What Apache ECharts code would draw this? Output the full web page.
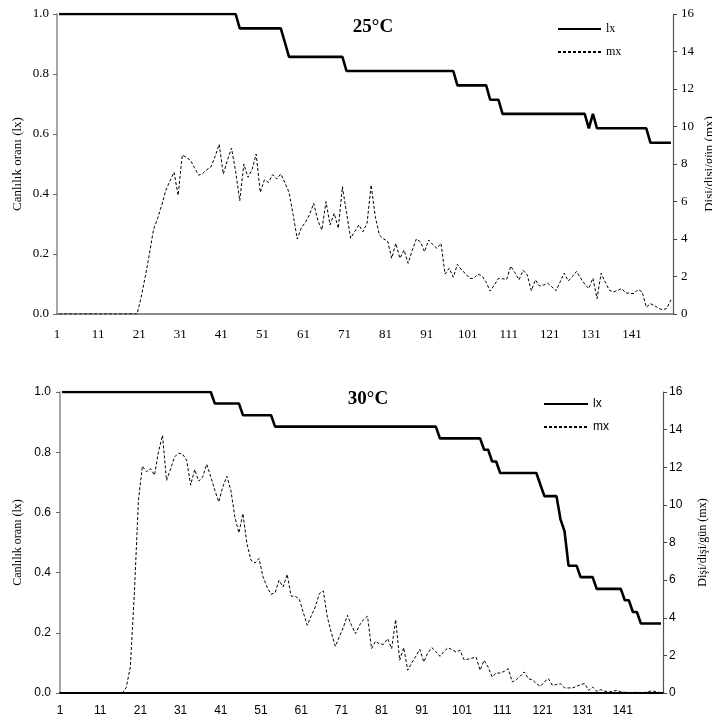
<!DOCTYPE html>
<html><head><meta charset="utf-8">
<script src="https://cdn.jsdelivr.net/npm/echarts@6/dist/echarts.min.js"></script>
<style>html,body{margin:0;padding:0;background:#fff}#c{width:712px;height:722px}</style>
</head><body><div id="c"></div>
<script>
// Days 1..150 (category labels)
const days = [];
for (let d = 1; d <= 150; d++) days.push(String(d));

// 25°C survival (lx), days 1..150
const lx25 = [
  1,1,1,1,1,1,1,1,1,1, 1,1,1,1,1,1,1,1,1,1,
  1,1,1,1,1,1,1,1,1,1, 1,1,1,1,1,1,1,1,1,1,
  1,1,1,1,0.952,0.952,0.952,0.952,0.952,0.952,
  0.952,0.952,0.952,0.952,0.952,0.905,0.857,0.857,0.857,0.857,
  0.857,0.857,0.857,0.857,0.857,0.857,0.857,0.857,0.857,0.857,
  0.810,0.810,0.810,0.810,0.810,0.810,0.810,0.810,0.810,0.810,
  0.810,0.810,0.810,0.810,0.810,0.810,0.810,0.810,0.810,0.810,
  0.810,0.810,0.810,0.810,0.810,0.810,0.810,0.762,0.762,0.762,
  0.762,0.762,0.762,0.762,0.762,0.714,0.714,0.714,0.667,0.667,
  0.667,0.667,0.667,0.667,0.667,0.667,0.667,0.667,0.667,0.667,
  0.667,0.667,0.667,0.667,0.667,0.667,0.667,0.667,0.667,0.619,
  0.667,0.619,0.619,0.619,0.619,0.619,0.619,0.619,0.619,0.619,
  0.619,0.619,0.619,0.619,0.571,0.571,0.571,0.571,0.571,0.571
];
// 25°C fecundity (mx), days 1..150
const mx25 = [
  0,0,0,0,0,0,0,0,0,0, 0,0,0,0,0,0,0,0,0,0,
  0.9,2.0,3.2,4.5,5.1,5.8,6.6,7.1,7.56,6.33,
  8.48,8.35,8.2,7.8,7.4,7.5,7.7,7.85,8.4,9.05,
  7.47,8.2,8.85,7.6,6.04,8.0,7.29,7.7,8.53,6.49,
  7.15,7.02,7.43,7.2,7.47,7.0,6.49,5.3,4.0,4.6,
  4.9,5.3,5.9,5.0,4.48,5.99,4.75,5.37,4.57,6.79,
  5.4,4.04,4.4,4.75,4.39,4.84,6.88,5.2,4.21,4.0,
  3.9,2.97,3.77,2.97,3.41,2.7,3.4,4.0,3.85,3.32,
  3.95,3.7,3.5,3.77,2.13,2.44,1.96,2.65,2.35,2.15,
  1.9,1.9,2.13,2.03,1.7,1.22,1.55,1.9,1.88,1.85,
  2.55,2.2,1.82,2.33,2.09,1.24,1.82,1.49,1.55,1.64,
  1.45,1.24,1.7,2.18,1.76,2.0,2.27,1.91,1.6,1.36,
  1.91,0.82,2.18,1.7,1.27,1.18,1.25,1.36,1.13,1.1,
  1.09,1.31,1.18,0.36,0.55,0.45,0.3,0.22,0.3,0.76
];
// 30°C survival (lx), days 1..150
const lx30 = [
  1,1,1,1,1,1,1,1,1,1, 1,1,1,1,1,1,1,1,1,1,
  1,1,1,1,1,1,1,1,1,1, 1,1,1,1,1,1,1,1,0.962,0.962,
  0.962,0.962,0.962,0.962,0.962,0.923,0.923,0.923,0.923,0.923,
  0.923,0.923,0.923,0.885,0.885,0.885,0.885,0.885,0.885,0.885,
  0.885,0.885,0.885,0.885,0.885,0.885,0.885,0.885,0.885,0.885,
  0.885,0.885,0.885,0.885,0.885,0.885,0.885,0.885,0.885,0.885,
  0.885,0.885,0.885,0.885,0.885,0.885,0.885,0.885,0.885,0.885,
  0.885,0.885,0.885,0.885,0.846,0.846,0.846,0.846,0.846,0.846,
  0.846,0.846,0.846,0.846,0.846,0.808,0.808,0.769,0.769,0.731,
  0.731,0.731,0.731,0.731,0.731,0.731,0.731,0.731,0.731,0.692,
  0.654,0.654,0.654,0.654,0.577,0.538,0.423,0.423,0.423,0.385,
  0.385,0.385,0.385,0.346,0.346,0.346,0.346,0.346,0.346,0.346,
  0.308,0.308,0.269,0.269,0.231,0.231,0.231,0.231,0.231,0.231
];
// 30°C fecundity (mx), days 1..150
const mx30 = [
  0,0,0,0,0,0,0,0,0,0, 0,0,0,0,0,0,0.3,1.4,5.3,10.2,
  12.06,11.76,11.93,11.58,12.82,13.7,11.3,11.9,12.55,12.75,
  12.7,12.38,11.05,11.88,11.26,11.49,12.16,11.5,10.78,10.16,
  10.96,11.52,10.78,9.36,8.51,9.54,7.94,7.06,6.91,7.15,
  6.17,5.64,5.25,5.32,5.99,5.64,6.31,5.15,5.14,5.0,
  4.3,3.6,4.1,4.57,5.28,5.43,4.04,3.2,2.48,3.0,
  3.5,4.13,3.6,3.16,3.6,3.9,4.08,2.36,2.75,2.6,
  2.59,2.89,2.36,3.9,1.74,2.41,1.21,1.6,1.95,2.32,
  1.65,2.13,2.41,2.2,1.95,2.2,2.41,2.3,2.18,2.27,
  1.77,1.8,1.85,1.91,1.21,1.74,1.38,0.85,1.06,1.06,
  1.15,1.29,0.59,0.7,0.9,1.12,0.76,0.7,0.5,0.35,
  0.6,0.76,0.41,0.45,0.5,0.27,0.27,0.27,0.35,0.45,
  0.5,0.14,0.32,0.09,0.18,0.1,0.05,0.09,0.14,0.06,
  0.04,0.03,0.03,0.04,0.02,0.03,0.09,0.11,0.05,0.02
];

const SERIF = '"Liberation Serif", "DejaVu Serif", serif';
const SANS = '"Liberation Sans", Arial, sans-serif';

function xAxisCfg(gi, font, fs, margin, lineColor, lineWidth) {
  return {
    gridIndex: gi, type: 'category', data: days, boundaryGap: true,
    axisLine: { lineStyle: { color: lineColor, width: lineWidth } },
    axisTick: { interval: 9, length: 4, lineStyle: { color: '#444' } },
    axisLabel: { interval: 9, color: '#000', fontFamily: font, fontSize: fs, margin: margin, padding: [0, 4, 0, 0] },
    splitLine: { show: false }
  };
}
function yLeft(gi, font, fs, name, nameFs, nameGap, margin) {
  return {
    gridIndex: gi, type: 'value', position: 'left', min: 0, max: 1, interval: 0.2,
    axisLine: { show: true, lineStyle: { color: '#8a8a8a', width: 1.5 } },
    axisTick: { show: true, length: 4, lineStyle: { color: '#666' } },
    axisLabel: { color: '#000', fontFamily: font, fontSize: fs, margin: margin, formatter: v => v.toFixed(1) },
    splitLine: { show: false },
    name: name, nameLocation: 'middle', nameGap: nameGap, nameMoveOverlap: false,
    nameTextStyle: { color: '#000', fontFamily: SERIF, fontSize: nameFs }
  };
}
function yRight(gi, font, fs, name, nameFs, nameGap, margin) {
  return {
    gridIndex: gi, type: 'value', position: 'right', min: 0, max: 16, interval: 2,
    axisLine: { show: true, lineStyle: { color: '#555', width: 1.2 } },
    axisTick: { show: true, length: 4, lineStyle: { color: '#444' } },
    axisLabel: { color: '#000', fontFamily: font, fontSize: fs, margin: margin },
    splitLine: { show: false },
    name: name, nameLocation: 'middle', nameGap: nameGap, nameMoveOverlap: false,
    nameTextStyle: { color: '#000', fontFamily: SERIF, fontSize: nameFs }
  };
}
function lxSeries(xi, yi, data) {
  return { name: 'lx', type: 'line', xAxisIndex: xi, yAxisIndex: yi, data: data,
    symbol: 'none', lineStyle: { color: '#000', width: 2.6 }, itemStyle: { color: '#000' } };
}
function mxSeries(xi, yi, data) {
  return { name: 'mx', type: 'line', xAxisIndex: xi, yAxisIndex: yi, data: data,
    symbol: 'none', lineStyle: { color: '#000', width: 1, type: [3, 2] }, itemStyle: { color: '#000' } };
}

const chart = echarts.init(document.getElementById('c'), null, { renderer: 'canvas' });
chart.setOption({
  animation: false,
  backgroundColor: '#fff',
  grid: [
    { left: 57, right: 39, top: 14, height: 300, containLabel: false, outerBoundsMode: 'none' },
    { left: 60, right: 49, top: 392, height: 301, containLabel: false, outerBoundsMode: 'none' }
  ],
  xAxis: [
    xAxisCfg(0, SERIF, 13, 14, '#666', 1.5),
    xAxisCfg(1, SANS, 12, 12, '#000', 2)
  ],
  yAxis: [
    yLeft(0, SERIF, 13, 'Canlılık oranı (lx)', 13, 33, 8),
    yRight(0, SERIF, 13, 'Dişi/dişi/gün (mx)', 13, 30, 8),
    yLeft(1, SANS, 12, 'Canlılık oranı (lx)', 12, 36, 9),
    yRight(1, SANS, 12, 'Dişi/dişi/gün (mx)', 12, 34, 6)
  ],
  legend: [
    { data: ['lx', 'mx'], orient: 'vertical', left: 557, top: 23, padding: 0, itemWidth: 43, itemHeight: 14, itemGap: 11,
      selectedMode: false, itemStyle: { opacity: 0 },
      textStyle: { fontFamily: SERIF, fontSize: 12, color: '#000' } },
    { data: ['lx', 'mx'], orient: 'vertical', left: 543, top: 398, padding: 0, itemWidth: 44, itemHeight: 14, itemGap: 11,
      selectedMode: false, itemStyle: { opacity: 0 },
      textStyle: { fontFamily: SANS, fontSize: 12, color: '#000' } }
  ],
  graphic: [
    { type: 'text', x: 373, y: 27, style: { text: '25°C', font: 'bold 19px "Liberation Serif"', fill: '#000', textAlign: 'center', textVerticalAlign: 'middle' } },
    { type: 'text', x: 368, y: 399, style: { text: '30°C', font: 'bold 19px "Liberation Serif"', fill: '#000', textAlign: 'center', textVerticalAlign: 'middle' } }
  ],
  series: [
    lxSeries(0, 0, lx25),
    mxSeries(0, 1, mx25),
    lxSeries(1, 2, lx30),
    mxSeries(1, 3, mx30)
  ]
});
</script>
</body></html>
